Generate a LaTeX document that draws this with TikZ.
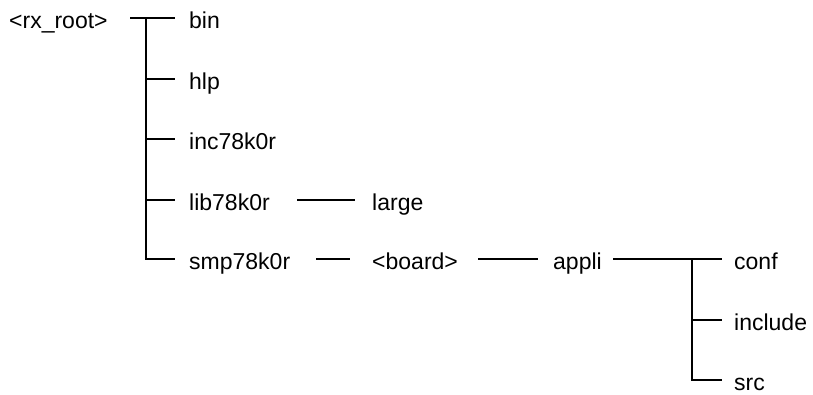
\documentclass[tikz,border=0pt]{standalone}
\usepackage{fontspec}
\setmainfont{Liberation Sans}
\begin{document}
\begin{tikzpicture}[x=1pt,y=-1pt,
  lbl/.style={anchor=west,inner sep=0pt,text height=20pt,text depth=0pt,font=\fontsize{23}{27}\selectfont},
  conn/.style={line width=1.6pt}]
\useasboundingbox (0,0) rectangle (813,394);
\node[lbl] (root) at (9,18) {<rx\_root>};
\node[lbl] (bin) at (189,18) {bin};
\node[lbl] (hlp) at (189,79) {hlp};
\node[lbl] (inc) at (189,139) {inc78k0r};
\node[lbl] (lib) at (189,200) {lib78k0r};
\node[lbl] (smp) at (189,259) {smp78k0r};
\node[lbl] (large) at (372,200) {large};
\node[lbl] (board) at (372,259) {<board>};
\node[lbl] (appli) at (553,259) {appli};
\node[lbl] (conf) at (734,259) {conf};
\node[lbl] (incl) at (734,320) {include};
\node[lbl] (src) at (734,380) {src};
\coordinate (j1) at (146,18);
\coordinate (j2) at (692,259);
% root tree
\draw[conn,shorten <=22.6pt,shorten >=14pt] (root.east) -- (bin.west);
\draw[conn,shorten >=14pt] (j1) |- (smp.west);
\draw[conn,shorten >=14pt] (j1 |- hlp.west) -- (hlp.west);
\draw[conn,shorten >=14pt] (j1 |- inc.west) -- (inc.west);
\draw[conn,shorten >=14pt] (j1 |- lib.west) -- (lib.west);
% chains
\draw[conn,shorten <=27.5pt,shorten >=17pt] (lib.east) -- (large.west);
\draw[conn,shorten <=26pt,shorten >=22pt] (smp.east) -- (board.west);
\draw[conn,shorten <=20.3pt,shorten >=15pt] (board.east) -- (appli.west);
\draw[conn,shorten <=11.4pt,shorten >=12pt] (appli.east) -- (conf.west);
\draw[conn,shorten >=12pt] (j2) |- (src.west);
\draw[conn,shorten >=12pt] (j2 |- incl.west) -- (incl.west);
\end{tikzpicture}
\end{document}
